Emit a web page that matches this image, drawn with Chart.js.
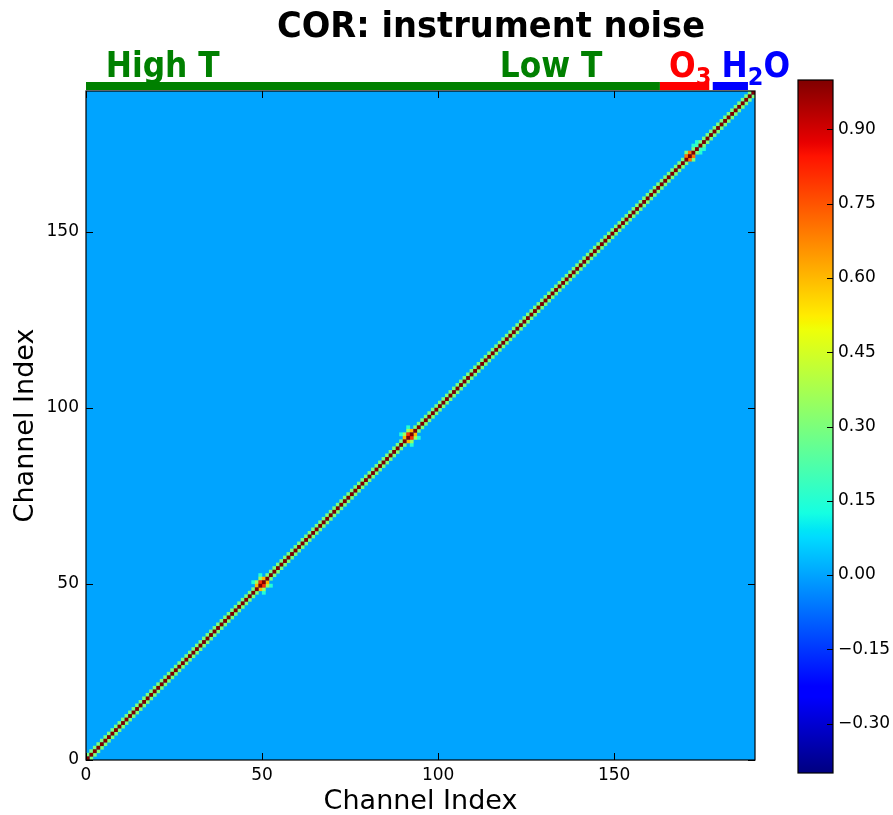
<!DOCTYPE html>
<html><head><meta charset="utf-8">
<script src="https://cdn.jsdelivr.net/npm/chart.js@4/dist/chart.umd.min.js"></script>
<style>
html,body{margin:0;padding:0;background:#fff;}
#wrap{position:relative;width:893px;height:815px;overflow:hidden;}
canvas{position:absolute;top:0;}
</style></head><body>
<div id="wrap">
<canvas id="main" width="893" height="815" style="left:0"></canvas>
<canvas id="cbar" width="113" height="815" style="left:780px"></canvas>
</div>
<script>
// ---------------- data ----------------
const nChannels = 190;
const axisTicks = [0, 50, 100, 150];
const colorTicks = [-0.30, -0.15, 0.00, 0.15, 0.30, 0.45, 0.60, 0.75, 0.90];
const colorMin = -0.40;
const colorMax = 1.00;
const backgroundValue = 0.00;
// correlation of channel i with itself (i = 0..189)
const diagonal = [
1,1,1,1,1,1,1,1,1,1,
1,1,1,1,1,1,1,1,1,1,
1,1,1,1,1,1,1,1,1,1,
1,1,1,1,1,1,1,1,1,1,
1,1,1,1,1,1,1,1,1,1,
1,1,1,1,1,1,1,1,1,1,
1,1,1,1,1,1,1,1,1,1,
1,1,1,1,1,1,1,1,1,1,
1,1,1,1,1,1,1,1,1,1,
1,1,1,1,1,1,1,1,1,1,
1,1,1,1,1,1,1,1,1,1,
1,1,1,1,1,1,1,1,1,1,
1,1,1,1,1,1,1,1,1,1,
1,1,1,1,1,1,1,1,1,1,
1,1,1,1,1,1,1,1,1,1,
1,1,1,1,1,1,1,1,1,1,
1,1,1,1,1,1,1,1,1,1,
1,1,1,1,1,1,1,1,1,1,
1,1,1,1,1,1,1,1,1,1
];
// correlation of channel i with channel i+1 (i = 0..188)
const offDiagonal = [
0.3,0.3,0.3,0.3,0.3,0.3,0.3,0.3,0.3,0.3,
0.3,0.3,0.3,0.3,0.3,0.3,0.3,0.3,0.3,0.3,
0.3,0.3,0.3,0.3,0.3,0.3,0.3,0.3,0.3,0.3,
0.3,0.3,0.3,0.3,0.3,0.3,0.3,0.3,0.3,0.3,
0.3,0.3,0.3,0.3,0.3,0.3,0.3,0.3,0.6,0.8,
0.6,0.3,0.3,0.3,0.3,0.3,0.3,0.3,0.3,0.3,
0.3,0.3,0.3,0.3,0.3,0.3,0.3,0.3,0.3,0.3,
0.3,0.3,0.3,0.3,0.3,0.3,0.3,0.3,0.3,0.3,
0.3,0.3,0.3,0.3,0.3,0.3,0.3,0.3,0.3,0.3,
0.6,0.8,0.6,0.3,0.3,0.3,0.3,0.3,0.3,0.3,
0.3,0.3,0.3,0.3,0.3,0.3,0.3,0.3,0.3,0.3,
0.3,0.3,0.3,0.3,0.3,0.3,0.3,0.3,0.3,0.3,
0.3,0.3,0.3,0.3,0.3,0.3,0.3,0.3,0.3,0.3,
0.3,0.3,0.3,0.3,0.3,0.3,0.3,0.3,0.3,0.3,
0.3,0.3,0.3,0.3,0.3,0.3,0.3,0.3,0.3,0.3,
0.3,0.3,0.3,0.3,0.3,0.3,0.3,0.3,0.3,0.3,
0.3,0.3,0.3,0.3,0.3,0.3,0.3,0.3,0.3,0.3,
0.7,0.7,0.3,0.2,0.3,0.3,0.3,0.3,0.3,0.3,
0.3,0.3,0.3,0.3,0.3,0.3,0.3,0.3,0.3
];
// other non-zero cells [row, column, value] (mirrored)
const extraCells = [
  [48, 50, 0.35], [49, 51, 0.35], [47, 50, 0.15], [49, 52, 0.15],
  [90, 92, 0.35], [91, 93, 0.35], [89, 92, 0.15], [91, 94, 0.15],
  [170, 172, 0.30], [172, 174, 0.15], [173, 175, 0.15]
];
// channel groups shown above the matrix
const bandStart = [0, 163, 178];
const bandEnd   = [163, 177, 188];
const labelMain = ['High T', 'Low T', 'O', 'H'];
const labelSub  = ['', '', '3', '2'];
const labelTail = ['', '', '', 'O'];
const labelChannel = [5.6, 117.5, 165.6, 180.5];

// ---------------- styles ----------------
const bandColors  = ['#008000', '#ff0000', '#0000ff'];
const labelColors = ['#008000', '#008000', '#ff0000', '#0000ff'];
const FONT = 'DejaVu Sans';

// ---------------- jet colormap ----------------
const jetR = [[0,0],[0.35,0],[0.66,1],[0.89,1],[1,0.5]];
const jetG = [[0,0],[0.125,0],[0.375,1],[0.64,1],[0.91,0],[1,0]];
const jetB = [[0,0.5],[0.11,1],[0.34,1],[0.65,0],[1,0]];
function seg(p, t){
  for (let k = 1; k < p.length; k++) {
    if (t <= p[k][0]) { const a = p[k-1], b = p[k]; return a[1] + (b[1]-a[1])*(t-a[0])/(b[0]-a[0]); }
  }
  return p[p.length-1][1];
}
function jetAt(t){
  t = Math.max(0, Math.min(1, t));
  return 'rgb(' + Math.round(255*seg(jetR,t)) + ',' + Math.round(255*seg(jetG,t)) + ',' + Math.round(255*seg(jetB,t)) + ')';
}
function jet(v){ return jetAt((v - colorMin)/(colorMax - colorMin)); }
const jetStops = [0,0.11,0.125,0.34,0.35,0.375,0.64,0.65,0.66,0.89,0.91,1];

// ---------------- cells ----------------
const cells = [];
diagonal.forEach((v,i) => cells.push({x:i+0.5, y:i+0.5, v}));
offDiagonal.forEach((v,i) => { cells.push({x:i+0.5, y:i+1.5, v}); cells.push({x:i+1.5, y:i+0.5, v}); });
extraCells.forEach(([i,j,v]) => { cells.push({x:i+0.5, y:j+0.5, v}); cells.push({x:j+0.5, y:i+0.5, v}); });
cells.sort((a,b) => a.v - b.v);

function fmt(v){ const s = Math.abs(v).toFixed(2); return (v < -1e-9 ? '\u2212' : '') + s; }

function drawText(ctx, text, x, y, font, color, sx){
  ctx.save();
  ctx.font = font;
  ctx.translate(x, y);
  ctx.scale(sx, 1);
  ctx.fillStyle = color;
  ctx.textAlign = 'left';
  ctx.textBaseline = 'alphabetic';
  ctx.fillText(text, 0, 0);
  const w = ctx.measureText(text).width * sx;
  ctx.restore();
  return w;
}

const decoPlugin = {
  id: 'deco',
  beforeDatasetsDraw(chart){
    const a = chart.chartArea, ctx = chart.ctx;
    ctx.save();
    ctx.fillStyle = jet(backgroundValue);
    ctx.fillRect(a.left, a.top, a.right - a.left, a.bottom - a.top);
    ctx.restore();
  },
  afterDraw(chart){
    const a = chart.chartArea, ctx = chart.ctx;
    const xs = chart.scales.x, ys = chart.scales.y;
    ctx.save();
    ctx.strokeStyle = '#000';
    ctx.lineWidth = 1.2;
    ctx.strokeRect(a.left, a.top, a.right - a.left, a.bottom - a.top);
    ctx.lineWidth = 1;
    const tl = 7;
    ctx.beginPath();
    axisTicks.forEach(t => {
      const px = Math.round(xs.getPixelForValue(t)) + 0.5;
      ctx.moveTo(px, a.bottom); ctx.lineTo(px, a.bottom - tl);
      ctx.moveTo(px, a.top); ctx.lineTo(px, a.top + tl);
      const py = Math.round(ys.getPixelForValue(t)) + 0.5;
      ctx.moveTo(a.left, py); ctx.lineTo(a.left + tl, py);
      ctx.moveTo(a.right, py); ctx.lineTo(a.right - tl, py);
    });
    ctx.stroke();
    bandStart.forEach((s,k) => {
      const x0 = xs.getPixelForValue(s), x1 = xs.getPixelForValue(bandEnd[k]);
      ctx.fillStyle = bandColors[k];
      ctx.fillRect(x0, a.top - 9, x1 - x0, 8);
    });
    labelMain.forEach((t,k) => {
      let x = xs.getPixelForValue(labelChannel[k]);
      x += drawText(ctx, t, x, a.top - 14, 'bold 36px "' + FONT + '"', labelColors[k], 0.87);
      if (labelSub[k]) x += drawText(ctx, labelSub[k], x, a.top - 6, 'bold 25px "' + FONT + '"', labelColors[k], 0.9);
      if (labelTail[k]) drawText(ctx, labelTail[k], x, a.top - 14, 'bold 36px "' + FONT + '"', labelColors[k], 0.87);
    });
    ctx.font = 'bold 36px "' + FONT + '"';
    const title = 'COR: instrument noise';
    const tw = ctx.measureText(title).width;
    drawText(ctx, title, 277, 37, 'bold 36px "' + FONT + '"', '#000', 428 / tw);
    ctx.restore();
  }
};

function cellRadius(c){
  const xs = c.chart.scales.x;
  const w = Math.abs(xs.getPixelForValue(1) - xs.getPixelForValue(0));
  return isFinite(w) ? (w + 0.3) / Math.SQRT2 : 2;
}

new Chart(document.getElementById('main'), {
  type: 'scatter',
  data: { datasets: [{
    data: cells,
    pointStyle: 'rect',
    borderWidth: 0,
    pointBorderWidth: 0,
    backgroundColor: c => c.raw ? jet(c.raw.v) : '#000',
    pointBackgroundColor: c => c.raw ? jet(c.raw.v) : '#000',
    pointRadius: cellRadius,
    pointHoverRadius: cellRadius
  }]},
  options: {
    responsive: false,
    animation: false,
    events: [],
    layout: { padding: { top: 91, right: 138, left: 0, bottom: 0 } },
    plugins: { legend: { display: false }, tooltip: { enabled: false } },
    scales: {
      x: {
        type: 'linear', position: 'bottom', min: 0, max: nChannels,
        afterBuildTicks: s => { s.ticks = axisTicks.map(v => ({ value: v })); },
        afterFit: s => { s.height = 55; },
        grid: { display: false, drawTicks: false },
        border: { display: false },
        ticks: { padding: 5, color: '#000', font: { family: FONT, size: 17 }, maxRotation: 0 },
        title: { display: true, text: 'Channel Index', color: '#000', font: { family: FONT, size: 27 }, padding: { top: 0, bottom: -3 } }
      },
      y: {
        type: 'linear', position: 'left', min: 0, max: nChannels,
        afterBuildTicks: s => { s.ticks = axisTicks.map(v => ({ value: v })); },
        afterFit: s => { s.width = 86; },
        grid: { display: false, drawTicks: false },
        border: { display: false },
        ticks: { padding: 7, color: '#000', font: { family: FONT, size: 17 } },
        title: { display: true, text: 'Channel Index', color: '#000', font: { family: FONT, size: 27 }, padding: { top: 10, bottom: 0 } }
      }
    }
  },
  plugins: [decoPlugin]
});

const cbPlugin = {
  id: 'cbdeco',
  afterDraw(chart){
    const a = chart.chartArea, ctx = chart.ctx, ys = chart.scales.y;
    ctx.save();
    ctx.strokeStyle = '#000';
    ctx.lineWidth = 1.2;
    ctx.strokeRect(a.left, a.top, a.right - a.left, a.bottom - a.top);
    ctx.lineWidth = 1;
    ctx.beginPath();
    colorTicks.forEach(v => {
      const py = Math.round(ys.getPixelForValue(v)) + 0.5;
      ctx.moveTo(a.right, py); ctx.lineTo(a.right - 6, py);
    });
    ctx.stroke();
    ctx.restore();
  }
};

new Chart(document.getElementById('cbar'), {
  type: 'bar',
  data: { labels: ['cb'], datasets: [{
    data: [[colorMin, colorMax]],
    borderWidth: 0,
    barPercentage: 1,
    categoryPercentage: 1,
    backgroundColor: c => {
      const chart = c.chart, ys = chart.scales.y;
      if (!chart.chartArea || !ys) return 'rgba(0,0,0,0)';
      const y0 = ys.getPixelForValue(colorMin), y1 = ys.getPixelForValue(colorMax);
      if (!isFinite(y0) || !isFinite(y1) || y0 === y1) return 'rgba(0,0,0,0)';
      const g = chart.ctx.createLinearGradient(0, y0, 0, y1);
      jetStops.forEach(t => g.addColorStop(t, jetAt(t)));
      return g;
    }
  }]},
  options: {
    responsive: false,
    animation: false,
    events: [],
    layout: { padding: { left: 18, top: 80, bottom: 42, right: 0 } },
    plugins: { legend: { display: false }, tooltip: { enabled: false } },
    scales: {
      x: { display: false },
      y: {
        position: 'right', min: colorMin, max: colorMax,
        afterBuildTicks: s => { s.ticks = colorTicks.map(v => ({ value: v })); },
        afterFit: s => { s.width = 60; },
        grid: { display: false, drawTicks: false },
        border: { display: false },
        ticks: { padding: 5, color: '#000', font: { family: FONT, size: 17 }, callback: v => fmt(v) }
      }
    }
  },
  plugins: [cbPlugin]
});
</script>
</body></html>
